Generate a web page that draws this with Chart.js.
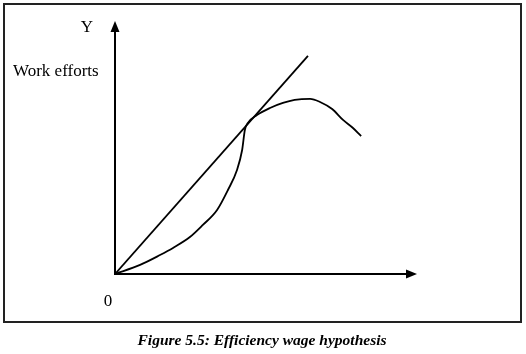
<!DOCTYPE html>
<html>
<head>
<meta charset="utf-8">
<script src="https://cdn.jsdelivr.net/npm/chart.js@4"></script>
<style>
  html, body { margin: 0; padding: 0; background: #fff; }
  canvas { display: block; }
</style>
</head>
<body>
<canvas id="chart" width="526" height="354"></canvas>
<script>
// effort curve (wage on x, work effort on y), 0-100 units
const effortX = [0, 8.3, 14.9, 19.2, 24.8, 29.1, 33.8, 37.4, 40.4, 42.1, 43.0, 44.0, 47.0, 51.3, 55.6, 59.5, 64.6, 67.9, 71.9, 75.5, 78.8, 81.5];
const effortY = [0, 3.6, 7.5, 10.3, 14.6, 19.4, 25.3, 33.2, 41.1, 49.0, 56.9, 59.7, 62.8, 65.6, 67.6, 68.8, 69.2, 68.0, 65.2, 60.9, 57.7, 54.5];
// ray from the origin, tangent to the curve
const rayX = [0, 63.9];
const rayY = [0, 86.2];

const axisMax = { x: 100, y: 100 };
const yLabel = 'Y';
const effortLabel = 'Work efforts';
const originLabel = '0';
const caption = 'Figure 5.5: Efficiency wage hypothesis';

const toPoints = (xs, ys) => xs.map((x, i) => ({ x: x, y: ys[i] }));

const decor = {
  id: 'decor',
  afterDraw(chart) {
    const ctx = chart.ctx;
    const a = chart.chartArea;
    ctx.save();
    // frame
    ctx.strokeStyle = '#222';
    ctx.lineWidth = 2;
    ctx.strokeRect(4, 4, 517, 318);

    // axes with arrow heads
    ctx.fillStyle = '#000';
    ctx.strokeStyle = '#000';
    ctx.lineWidth = 2;
    ctx.beginPath();
    ctx.moveTo(a.left, a.top + 8);
    ctx.lineTo(a.left, a.bottom);
    ctx.lineTo(a.right - 8, a.bottom);
    ctx.stroke();
    ctx.beginPath();
    ctx.moveTo(a.left, a.top);
    ctx.lineTo(a.left - 4.5, a.top + 11);
    ctx.lineTo(a.left + 4.5, a.top + 11);
    ctx.closePath();
    ctx.fill();
    ctx.beginPath();
    ctx.moveTo(a.right, a.bottom);
    ctx.lineTo(a.right - 11, a.bottom - 4.5);
    ctx.lineTo(a.right - 11, a.bottom + 4.5);
    ctx.closePath();
    ctx.fill();

    // labels
    ctx.font = '17px "Liberation Serif", "Times New Roman", serif';
    ctx.textBaseline = 'middle';
    ctx.textAlign = 'center';
    ctx.fillText(yLabel, 87, 28);
    ctx.fillText(originLabel, 108, 302);
    ctx.textAlign = 'left';
    ctx.fillText(effortLabel, 13, 72);

    ctx.font = 'italic bold 15.5px "Liberation Serif", "Times New Roman", serif';
    ctx.textAlign = 'center';
    ctx.fillText(caption, 262, 341);
    ctx.restore();
  }
};

new Chart(document.getElementById('chart'), {
  type: 'scatter',
  data: {
    datasets: [
      {
        data: toPoints(rayX, rayY),
        showLine: true,
        borderColor: '#000',
        borderWidth: 1.8,
        pointRadius: 0,
        tension: 0
      },
      {
        data: toPoints(effortX, effortY),
        showLine: true,
        borderColor: '#000',
        borderWidth: 1.8,
        pointRadius: 0,
        cubicInterpolationMode: 'monotone'
      }
    ]
  },
  options: {
    responsive: false,
    animation: false,
    layout: { padding: { left: 115, right: 109, top: 21, bottom: 80 } },
    plugins: { legend: { display: false }, tooltip: { enabled: false } },
    scales: {
      x: { type: 'linear', min: 0, max: axisMax.x, display: false },
      y: { type: 'linear', min: 0, max: axisMax.y, display: false }
    }
  },
  plugins: [decor]
});
</script>
</body>
</html>
